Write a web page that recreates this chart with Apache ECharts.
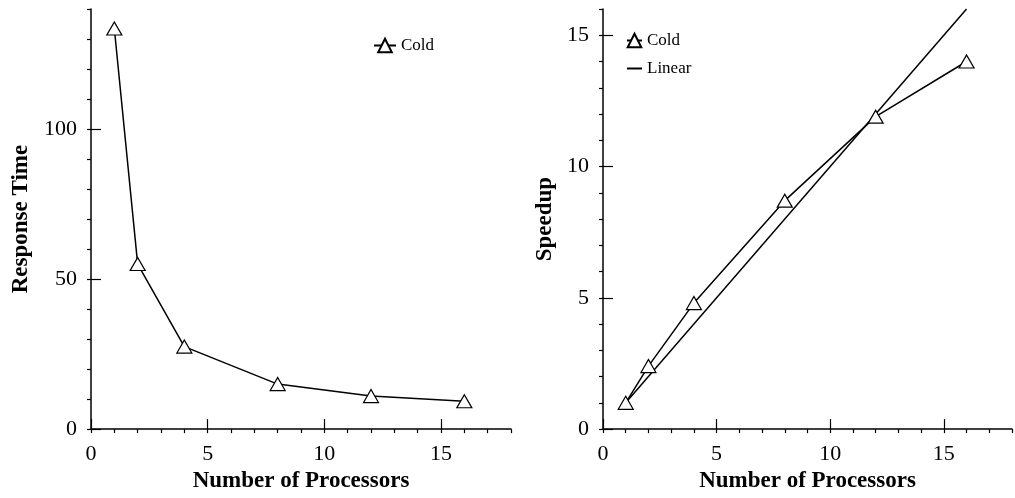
<!DOCTYPE html>
<html>
<head>
<meta charset="utf-8">
<script src="https://cdn.jsdelivr.net/npm/echarts@6/dist/echarts.min.js"></script>
<style>
  html, body { margin: 0; padding: 0; background: #fff; }
  #chart { width: 1015px; height: 498px; }
</style>
</head>
<body>
<div id="chart"></div>
<script>
// data
var processors = [1, 2, 4, 8, 12, 16]
var responseTime = [133.5, 55, 27.5, 15, 11, 9.3]
var speedup = [1, 2.4, 4.8, 8.7, 11.9, 14]
var linearX = [1, 16]
var linearY = [1, 16]
var xMajorTicks = [0, 5, 10, 15]
var rtMajorTicks = [0, 50, 100]
var suMajorTicks = [0, 5, 10, 15]

var font = 'Liberation Serif'
var black = '#000'

function pairs (xs, ys) {
  return xs.map(function (x, i) { return [x, ys[i]] })
}

function minorAxis (grid, max, step, labelEvery, extra) {
  var ax = {
    type: 'value',
    gridIndex: grid,
    min: 0,
    max: max,
    interval: step,
    splitLine: { show: false },
    axisLine: { lineStyle: { color: black, width: 1.5 } },
    axisTick: { length: 4, lineStyle: { color: black, width: 1.2 } },
    axisLabel: {
      margin: 14,
      color: black,
      fontFamily: font,
      fontSize: 22,
      formatter: function (v) { return v % labelEvery === 0 ? String(v) : '' }
    }
  }
  return Object.assign(ax, extra || {})
}

function majorAxis (grid, max, ticks) {
  return {
    type: 'value',
    gridIndex: grid,
    min: 0,
    max: max,
    splitLine: { show: false },
    axisLine: { show: false },
    axisLabel: { show: false },
    axisTick: { length: 10, customValues: ticks, lineStyle: { color: black, width: 1.2 } }
  }
}

var nameStyle = { fontFamily: font, fontWeight: 'bold', fontSize: 23, color: black }
var legendText = { fontFamily: font, fontSize: 17, color: black }

var chart = echarts.init(document.getElementById('chart'))
var option = {
  animation: false,
  backgroundColor: '#fff',
  grid: [
    { left: 91, top: 9, width: 420, height: 421 },
    { left: 603, top: 9, width: 420, height: 421 }
  ],
  legend: [
    {
      data: [{ name: 'Cold' }],
      left: 368,
      top: 32,
      itemWidth: 22,
      itemHeight: 17,
      textStyle: legendText
    },
    {
      data: [{ name: 'Cold' }, { name: 'Linear', itemStyle: { opacity: 0 } }],
      orient: 'vertical',
      left: 621,
      top: 27,
      itemGap: 11,
      itemWidth: 15,
      itemHeight: 17,
      textStyle: legendText
    }
  ],
  xAxis: [
    minorAxis(0, 18, 1, 5, { name: 'Number of Processors', nameLocation: 'middle', nameGap: 38, nameTextStyle: nameStyle }),
    majorAxis(0, 18, xMajorTicks),
    minorAxis(1, 18, 1, 5, { name: 'Number of Processors', nameLocation: 'middle', nameGap: 38, nameTextStyle: nameStyle }),
    majorAxis(1, 18, xMajorTicks)
  ],
  yAxis: [
    minorAxis(0, 140, 10, 50, { name: 'Response Time', nameLocation: 'middle', nameGap: 58, nameTextStyle: nameStyle }),
    majorAxis(0, 140, rtMajorTicks),
    minorAxis(1, 16, 1, 5, { name: 'Speedup', nameLocation: 'middle', nameGap: 46, nameTextStyle: nameStyle }),
    majorAxis(1, 16, suMajorTicks)
  ],
  series: [
    {
      name: 'Cold',
      type: 'line',
      xAxisIndex: 0,
      yAxisIndex: 0,
      symbol: 'triangle',
      symbolSize: [15, 13],
      lineStyle: { color: black, width: 1.5 },
      itemStyle: { color: '#fff', borderColor: black, borderWidth: 1.2 },
      data: pairs(processors, responseTime)
    },
    {
      name: 'Linear',
      type: 'line',
      xAxisIndex: 2,
      yAxisIndex: 2,
      symbol: 'none',
      lineStyle: { color: black, width: 1.5 },
      itemStyle: { color: black },
      data: pairs(linearX, linearY)
    },
    {
      name: 'Cold',
      type: 'line',
      xAxisIndex: 2,
      yAxisIndex: 2,
      symbol: 'triangle',
      symbolSize: [15, 13],
      lineStyle: { color: black, width: 1.5 },
      itemStyle: { color: '#fff', borderColor: black, borderWidth: 1.2 },
      data: pairs(processors, speedup)
    }
  ]
}
chart.setOption(option)
</script>
</body>
</html>
